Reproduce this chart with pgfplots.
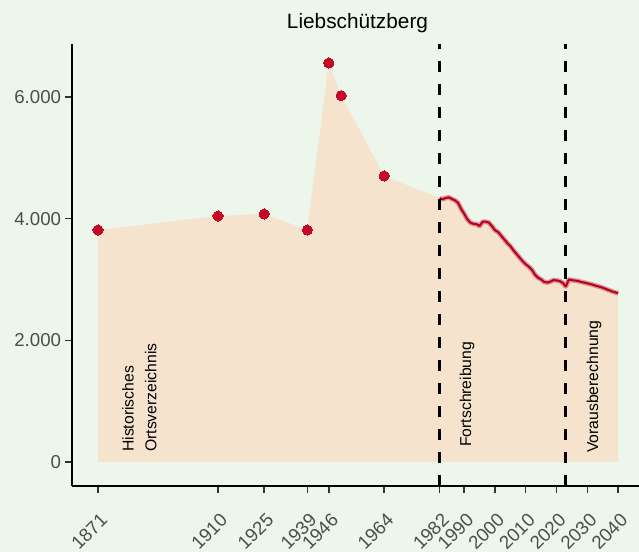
\documentclass[border=0pt]{standalone}
\usepackage{pgfplots}
\pgfplotsset{compat=1.18}
\usepackage{pgfplotstable}
\usepackage{fontspec}
\setmainfont{Liberation Sans}
\definecolor{bg}{RGB}{236,246,235}
\definecolor{peach}{RGB}{245,227,206}
\definecolor{ptred}{RGB}{196,8,38}
\definecolor{lnred}{RGB}{178,0,32}
\definecolor{ticktxt}{RGB}{77,77,77}

\pgfplotstableread{
year pop
1871 3814
1910 4044
1925 4077
1939 3814
1946 6559
1950 6022
1964 4702
}\hist

\pgfplotstableread{
year pop
1982 4335
1983 4320
1984 4340
1985 4350
1986 4325
1987 4300
1988 4260
1989 4160
1990 4080
1991 3990
1992 3935
1993 3915
1994 3910
1995 3880
1996 3950
1997 3950
1998 3935
1999 3880
2000 3810
2001 3780
2002 3720
2003 3660
2004 3600
2005 3550
2006 3480
2007 3420
2008 3360
2009 3300
2010 3250
2011 3210
2012 3160
2013 3080
2014 3030
2015 3000
2016 2960
2017 2950
2018 2965
2019 2990
2020 2985
2021 2975
2022 2945
2023 2885
2024 3000
2025 2990
2026 2982
2027 2975
2028 2960
2029 2950
2030 2937
2031 2925
2032 2910
2033 2895
2034 2880
2035 2865
2036 2845
2037 2825
2038 2805
2039 2790
2040 2773
}\fort

\pgfplotstableread{
year pop
1871 3814
1910 4044
1925 4077
1939 3814
1946 6559
1950 6022
1964 4702
1982 4335
1983 4320
1984 4340
1985 4350
1986 4325
1987 4300
1988 4260
1989 4160
1990 4080
1991 3990
1992 3935
1993 3915
1994 3910
1995 3880
1996 3950
1997 3950
1998 3935
1999 3880
2000 3810
2001 3780
2002 3720
2003 3660
2004 3600
2005 3550
2006 3480
2007 3420
2008 3360
2009 3300
2010 3250
2011 3210
2012 3160
2013 3080
2014 3030
2015 3000
2016 2960
2017 2950
2018 2965
2019 2990
2020 2985
2021 2975
2022 2945
2023 2885
2024 3000
2025 2990
2026 2982
2027 2975
2028 2960
2029 2950
2030 2937
2031 2925
2032 2910
2033 2895
2034 2880
2035 2865
2036 2845
2037 2825
2038 2805
2039 2790
2040 2773
}\area

\begin{document}
\begin{tikzpicture}
\fill[bg] (-54pt,-49.5pt) rectangle (425.25pt,364.5pt);
\begin{axis}[
  scale only axis, width=425.25pt, height=331.5pt,
  xmin=1862.55, xmax=2046.8, ymin=-394.5, ymax=6871,
  axis lines=left,
  axis line style={-, line width=0.9pt, black},
  tick align=outside, major tick length=5.5pt,
  every tick/.style={line width=1.1pt, black!80},
  xtick={1871,1910,1925,1939,1946,1964,1982,1990,2000,2010,2020,2030,2040},
  xticklabels={1871,1910,1925,1939,1946,1964,1982,1990,2000,2010,2020,2030,2040},
  ytick={0,2000,4000,6000},
  yticklabels={0,2.000,4.000,6.000},
  ticklabel style={font=\fontsize{14}{15}\selectfont, text=ticktxt},
  xticklabel style={yshift=-14pt, xshift=1pt, rotate=45, anchor=north east, inner sep=0pt},
  yticklabel style={anchor=east, inner sep=0pt, xshift=-2.5pt},
  title={Liebschützberg},
  title style={font=\fontsize{15.6}{18}\selectfont, anchor=base, at={(0.5,1)}, yshift=5.5pt, xshift=1.5pt},
  clip=false,
]
\addplot[fill=peach, draw=none] table[x=year,y=pop] {\area} \closedcycle;
\addplot[line width=3.6pt, color=ptred, opacity=0.4, line join=round] table[x=year,y=pop] {\fort};
\addplot[line width=1.5pt, color=lnred, line join=round] table[x=year,y=pop] {\fort};
\addplot[only marks, color=ptred, mark=*, mark size=3.8pt, mark options={fill=ptred, draw=ptred, line width=0pt}] table[x=year,y=pop] {\hist};
\addplot[black, line width=2.1pt, dash pattern=on 8.25pt off 9pt] coordinates {(1982,-394.5) (1982,6871)};
\addplot[black, line width=2.1pt, dash pattern=on 8.25pt off 9pt] coordinates {(2023,-394.5) (2023,6871)};
\node[rotate=90, anchor=west, align=left, inner sep=0pt, font=\fontsize{11.8}{17}\selectfont] at (axis cs:1884.45,164) {Historisches\\Ortsverzeichnis};
\node[rotate=90, anchor=west, inner sep=0pt, font=\fontsize{11.8}{17}\selectfont] at (axis cs:1990.9,247) {Fortschreibung};
\node[rotate=90, anchor=west, inner sep=0pt, font=\fontsize{11.8}{17}\selectfont] at (axis cs:2032.2,148) {Vorausberechnung};
\end{axis}
\pgfresetboundingbox
\useasboundingbox (-54pt,-49.5pt) rectangle (425.25pt,364.5pt);
\end{tikzpicture}
\end{document}
